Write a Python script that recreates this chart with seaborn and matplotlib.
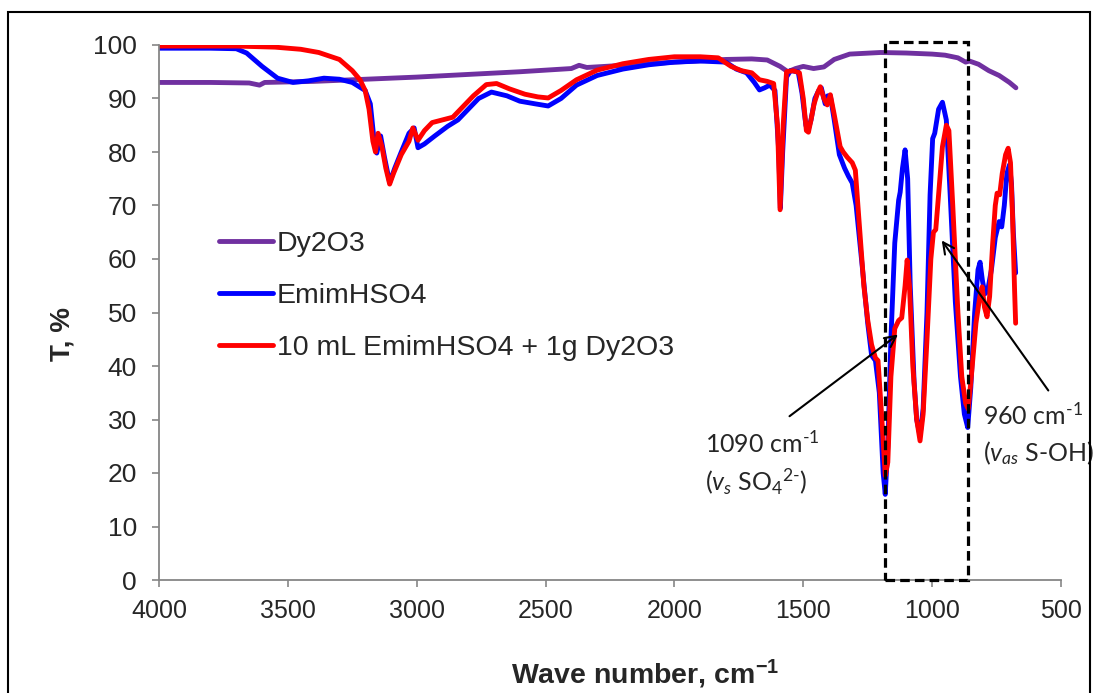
import numpy as np
import pandas as pd
import matplotlib
matplotlib.use("Agg")
import matplotlib.pyplot as plt
from matplotlib.patches import Rectangle
import seaborn as sns

# ---------------- data ----------------
dy_w = [4000, 3800, 3650, 3610, 3590, 3400, 3200, 3000, 2800, 2600, 2400, 2370, 2340,
        2200, 2000, 1800, 1700, 1640, 1590, 1560, 1530, 1500, 1460, 1420, 1380, 1320,
        1200, 1100, 1000, 950, 900, 870, 855, 820, 780, 740, 700, 675]
dy_t = [93.0, 93.0, 92.9, 92.5, 93.0, 93.2, 93.6, 94.0, 94.5, 95.0, 95.6, 96.2, 95.8,
        96.2, 96.8, 97.3, 97.4, 97.2, 96.0, 95.0, 95.6, 96.0, 95.6, 95.9, 97.3, 98.3,
        98.6, 98.5, 98.3, 98.1, 97.6, 96.8, 97.0, 96.4, 95.2, 94.3, 93.0, 92.0]

em_w = [4000, 3800, 3700, 3660, 3600, 3540, 3480, 3420, 3360, 3300, 3250, 3200, 3180,
        3165, 3155, 3140, 3125, 3105, 3085, 3060, 3030, 3010, 2995, 2970, 2930, 2880,
        2840, 2800, 2760, 2710, 2650, 2600, 2540, 2490, 2440, 2380, 2300, 2200, 2100,
        2000, 1900, 1800, 1760, 1720, 1690, 1670, 1650, 1630, 1610, 1595, 1589, 1580,
        1565, 1550, 1520, 1505, 1490, 1482, 1470, 1455, 1440, 1430, 1415, 1405, 1395,
        1380, 1360, 1340, 1325, 1310, 1295, 1270, 1250, 1235, 1220, 1205, 1190, 1182,
        1172, 1160, 1145, 1130, 1124, 1115, 1105, 1095, 1085, 1070, 1060, 1047, 1035,
        1020, 1008, 998, 990, 975, 960, 945, 930, 910, 890, 875, 862, 850, 835, 822,
        814, 805, 795, 785, 770, 755, 740, 730, 720, 710, 700, 692, 685, 676]
em_t = [99.4, 99.4, 99.3, 98.5, 96.0, 93.8, 93.0, 93.3, 93.8, 93.6, 93.0, 91.5, 89.0,
        82.0, 79.8, 83.0, 79.0, 74.3, 77.0, 80.0, 83.5, 84.5, 80.8, 81.5, 83.0, 84.8,
        86.0, 88.0, 90.0, 91.2, 90.5, 89.5, 89.0, 88.6, 90.0, 92.5, 94.3, 95.5, 96.3,
        96.8, 97.0, 96.8, 95.5, 94.8, 93.0, 91.6, 92.0, 92.5, 91.5, 80.0, 69.5, 80.0,
        94.0, 95.2, 95.0, 91.0, 85.0, 84.0, 86.0, 90.0, 91.5, 92.0, 89.0, 90.5, 90.5,
        86.0, 79.5, 77.0, 75.5, 74.2, 70.0, 58.0, 48.0, 42.0, 41.0, 35.0, 20.0, 16.0,
        25.0, 45.0, 63.0, 71.0, 72.5, 77.0, 80.4, 75.0, 55.0, 37.0, 30.0, 27.0, 32.0,
        50.0, 72.0, 82.5, 83.5, 88.0, 89.3, 86.0, 72.0, 52.0, 38.0, 31.0, 28.5, 36.0,
        50.0, 58.0, 59.4, 56.0, 53.5, 54.0, 58.0, 64.0, 67.0, 66.0, 70.0, 76.0, 77.6,
        74.0, 65.0, 57.4]

mix_w = [4000, 3700, 3550, 3450, 3380, 3300, 3250, 3220, 3200, 3185, 3170, 3160, 3150,
         3135, 3120, 3105, 3090, 3060, 3030, 3015, 2995, 2970, 2940, 2900, 2860, 2820,
         2780, 2730, 2690, 2640, 2580, 2530, 2490, 2440, 2380, 2300, 2200, 2100, 2000,
         1900, 1830, 1780, 1740, 1700, 1670, 1640, 1615, 1600, 1590, 1578, 1565, 1540,
         1515, 1500, 1488, 1480, 1470, 1458, 1445, 1434, 1420, 1407, 1395, 1380, 1357,
         1345, 1329, 1310, 1298, 1285, 1265, 1250, 1235, 1220, 1210, 1195, 1182, 1172,
         1160, 1145, 1130, 1118, 1105, 1097, 1088, 1075, 1060, 1047, 1035, 1020, 1005,
         995, 986, 975, 960, 945, 935, 920, 900, 885, 870, 860, 848, 830, 815, 806, 797,
         787, 777, 765, 755, 748, 738, 728, 715, 705, 696, 688, 680, 676]
mix_t = [99.8, 99.8, 99.6, 99.2, 98.6, 97.3, 95.2, 93.5, 91.5, 88.0, 82.0, 80.0, 83.5,
         81.0, 77.0, 74.0, 76.0, 79.5, 82.0, 84.5, 82.2, 84.0, 85.5, 86.0, 86.5, 88.5,
         90.5, 92.6, 92.8, 91.8, 90.8, 90.3, 90.1, 91.5, 93.5, 95.3, 96.5, 97.3, 97.8,
         97.8, 97.6, 96.0, 95.2, 94.8, 93.5, 93.2, 92.8, 85.0, 69.2, 85.0, 95.0, 95.2,
         94.8, 90.0, 84.0, 83.7, 86.0, 89.0, 91.0, 92.2, 90.0, 88.8, 90.7, 87.0, 81.0,
         80.0, 79.0, 78.0, 76.6, 68.0, 55.0, 48.6, 44.0, 41.5, 41.0, 30.0, 19.5, 22.0,
         38.0, 47.0, 48.5, 49.0, 55.0, 59.8, 55.0, 40.0, 30.0, 26.0, 31.0, 45.0, 60.0,
         65.0, 65.5, 72.0, 81.0, 85.0, 84.0, 70.0, 50.0, 38.0, 33.0, 32.0, 38.0, 48.0,
         53.0, 54.8, 51.0, 49.2, 53.0, 63.0, 70.0, 72.3, 72.0, 76.0, 79.5, 80.7, 78.0,
         68.0, 54.0, 48.0]

series_names = ["Dy2O3", "EmimHSO4", "10 mL EmimHSO4 + 1g Dy2O3"]
series_colors = ["#7030A0", "#0000FF", "#FF0000"]
x_ticks = [4000, 3500, 3000, 2500, 2000, 1500, 1000, 500]
y_ticks = [0, 10, 20, 30, 40, 50, 60, 70, 80, 90, 100]
box_w = [1182, 860]   # dashed highlight band (wave numbers)

# ---------------- styling ----------------
sns.set_style("white")
plt.rcParams["font.family"] = ["Liberation Sans", "DejaVu Sans"]
plt.rcParams["mathtext.fontset"] = "custom"
plt.rcParams["mathtext.rm"] = "Lato"
plt.rcParams["mathtext.it"] = "Lato:italic"
plt.rcParams["mathtext.bf"] = "Lato:bold"

fig = plt.figure(figsize=(10.96, 6.93), dpi=100)
ax = fig.add_axes([159 / 1096, 1 - 580 / 693, (1061 - 159) / 1096, (580 - 45) / 693])

frames = []
for name, w, t in zip(series_names, [dy_w, em_w, mix_w], [dy_t, em_t, mix_t]):
    frames.append(pd.DataFrame({"w": w, "T": t, "series": name}))
df = pd.concat(frames, ignore_index=True)

sns.lineplot(data=df, x="w", y="T", hue="series", hue_order=series_names,
             palette=dict(zip(series_names, series_colors)), sort=False,
             estimator=None, lw=3.5, ax=ax, legend=False)

ax.set_xlim(4000, 500)
ax.set_ylim(0, 100)
ax.set_xticks(x_ticks)
ax.set_yticks(y_ticks)
ax.tick_params(axis="both", length=5, width=1.2, color="#868686", direction="out")
ax.tick_params(axis="y", pad=11, left=True, labelsize=19)
ax.tick_params(axis="x", pad=9, bottom=True, labelsize=18)
for s in ["top", "right"]:
    ax.spines[s].set_visible(False)
for s in ["left", "bottom"]:
    ax.spines[s].set_color("#868686")
    ax.spines[s].set_linewidth(1.3)

ax.set_xlabel(r"Wave number, cm$^{\mathregular{-1}}$", fontsize=20.5, fontweight="bold")
ax.set_ylabel("T, %", fontsize=20, fontweight="bold")
ax.xaxis.set_label_coords(0.539, -0.145)
ax.yaxis.set_label_coords(-0.093, 0.46)

# legend
handles = [plt.Line2D([], [], color=c, lw=3.5) for c in series_colors]
fig.legend(handles, series_names, loc="upper left", bbox_to_anchor=(219 / 1096, 1 - 231 / 693),
           frameon=False, fontsize=20.5, handlelength=1.9, handletextpad=0.12,
           labelspacing=0.92, borderpad=0, borderaxespad=0)

# dashed box
rect = Rectangle((box_w[0], 0), box_w[1] - box_w[0], 100.6, fill=False, ec="black",
                 lw=2.3, ls=(0, (3, 1.6)), clip_on=False, zorder=5)
ax.add_patch(rect)

# annotations
afont = dict(family=["Lato", "DejaVu Sans"], fontsize=18)
ax.annotate("", xy=(1124, 46.2), xytext=(1562, 30.3),
            arrowprops=dict(arrowstyle="->", color="black", lw=1.5, mutation_scale=20),
            annotation_clip=False)
ax.annotate("", xy=(969, 63.9), xytext=(543, 35.0),
            arrowprops=dict(arrowstyle="->", color="black", lw=1.5, mutation_scale=20),
            annotation_clip=False)
ax.text(1880, 25.6, r"1090 cm$^{\text{-1}}$", ha="left", va="center", **afont)
ax.text(1880, 18.3, r"($v_{s}$ SO$_{4}{}^{\text{2-}}$)", ha="left", va="center", **afont)
ax.text(802, 30.8, r"960 cm$^{\text{-1}}$", ha="left", va="center", **afont)
ax.text(802, 23.7, r"($v_{as}$ S-OH)", ha="left", va="center", **afont)

# figure border
fig.patches.append(Rectangle((8 / 1096, -0.05), (1090 - 8) / 1096, 1.05 - 12 / 693,
                             transform=fig.transFigure, fill=False, ec="black", lw=1.5))

fig.savefig("out.png", dpi=100)
